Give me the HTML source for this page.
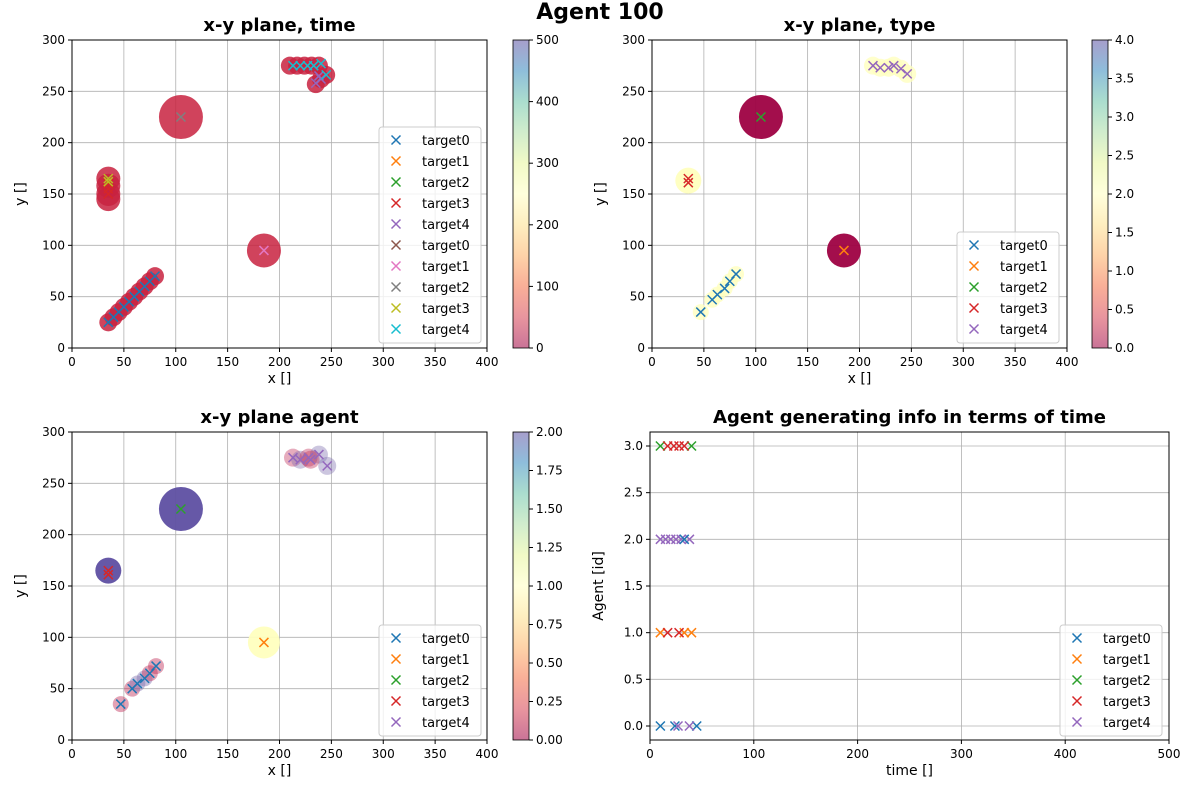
<!DOCTYPE html>
<html><head><meta charset="utf-8"><style>
body{margin:0;background:#fff;font-family:"Liberation Sans","DejaVu Sans",sans-serif}
svg text{font-family:"DejaVu Sans","Liberation Sans",sans-serif}
</style></head><body>
<svg id="fig" width="1200" height="800" viewBox="0 0 1200 800" xmlns="http://www.w3.org/2000/svg">
<defs>
<linearGradient id="spec" x1="0" y1="0" x2="0" y2="1">
<stop offset="0" stop-color="#5e4fa2"/><stop offset="0.1" stop-color="#3288bd"/><stop offset="0.2" stop-color="#66c2a5"/><stop offset="0.3" stop-color="#abdda4"/><stop offset="0.4" stop-color="#e6f598"/><stop offset="0.5" stop-color="#ffffbf"/><stop offset="0.6" stop-color="#fee08b"/><stop offset="0.7" stop-color="#fdae61"/><stop offset="0.8" stop-color="#f46d43"/><stop offset="0.9" stop-color="#d53e4f"/><stop offset="1" stop-color="#9e0142"/>
</linearGradient>
</defs>
<text x="600" y="19" text-anchor="middle" font-size="22" font-weight="bold">Agent 100</text>
</svg>
<script>
const NS='http://www.w3.org/2000/svg';
const fig=document.getElementById('fig');
const C=['#1f77b4','#ff7f0e','#2ca02c','#d62728','#9467bd','#8c564b','#e377c2','#7f7f7f','#bcbd22','#17becf'];
// ---- data ----
const tlT0x=[35,40,45,50,55,60,65,70,75,80];
const tlT0y=[25,30,35,40,45,50,55,60,65,70];
const tlT3x=[35,35,35];
const tlT3y=[150,155,160];
const tlT8x=[35,35];
const tlT8y=[165,162];
const tlT7x=[105];const tlT7y=[225];
const tlT6x=[185];const tlT6y=[95];
const tlT9x=[213,220,227,233,240,245];
const tlT9y=[275,275,275,275,277,266];
const tlT4x=[235,240,238];
const tlT4y=[258,262,265];
const tlCircleX=[35,40,45,50,55,60,65,70,75,80,35,35,35,35,105,185,210,217,224,231,238,245,240,235];
const tlCircleY=[25,30,35,40,45,50,55,60,65,70,145,150,158,165,225,95,275,275,275,275,275,266,262,257];
const tlCircleR=[9,9,9,9,9,9,9,9,9,9,12,12,12,12,22,17,9,9,9,9,9,9,9,9];

const trT0x=[47,58,63,70,75,81];const trT0y=[35,47,52,58,65,72];
const trT3x=[35,35];const trT3y=[165,161];
const trT2x=[105];const trT2y=[225];
const trT1x=[185];const trT1y=[95];
const trT4x=[213,220,228,233,240,246];const trT4y=[275,273,273,275,272,267];

const blT0x=[47,58,63,70,75,81];const blT0y=[35,50,55,60,65,72];
const blT0c=['#c0305a','#c0305a','#8070b0','#8070b0','#c0305a','#c0305a'];
const blT4x=[213,220,228,238,246,230];const blT4y=[275,273,275,278,267,273];
const blT4c=['#c0305a','#8070b0','#c0305a','#8070b0','#8070b0','#c0305a'];

const brRows=[3,3,3,3,3,3,2,2,2,2,2,2,2,1,1,1,1,1,0,0,0,0,0];
const brTime=[10,40,17,23,28,33,10,15,20,25,30,38,33,10,33,40,17,28,10,24,45,27,38];
const brSer=[2,2,3,3,3,3,4,4,4,4,4,4,0,1,1,1,3,3,0,0,0,4,4];

function el(tag,attrs,parent){const e=document.createElementNS(NS,tag);for(const k in attrs)e.setAttribute(k,attrs[k]);(parent||fig).appendChild(e);return e;}
function txt(s,attrs,parent){const e=el('text',attrs,parent);e.textContent=s;return e;}
function mk(g,px,py,color){
 const p=el('path',{d:`M${px-4.5},${py-4.5}L${px+4.5},${py+4.5}M${px-4.5},${py+4.5}L${px+4.5},${py-4.5}`,stroke:color,'stroke-width':1.5,fill:'none'},g);
 
 
}
function axes(name,x0,x1,y0,y1,xmin,xmax,ymin,ymax,xt,yt,yfmt,title,xl,yl){
 const g=el('g',{});
 
 
 const sx=v=>x0+(v-xmin)/(xmax-xmin)*(x1-x0);
 const sy=v=>y1-(v-ymin)/(ymax-ymin)*(y1-y0);
 xt.forEach(v=>{el('line',{x1:sx(v),x2:sx(v),y1:y0,y2:y1,stroke:'#b0b0b0','stroke-width':0.8},g);el('line',{x1:sx(v),x2:sx(v),y1:y1,y2:y1+4,stroke:'#000'},g);
  const t=txt(String(v),{x:sx(v),y:y1+18,'text-anchor':'middle','font-size':12},g);});
 yt.forEach(v=>{el('line',{x1:x0,x2:x1,y1:sy(v),y2:sy(v),stroke:'#b0b0b0','stroke-width':0.8},g);el('line',{x1:x0-4,x2:x0,y1:sy(v),y2:sy(v),stroke:'#000'},g);
  const t=txt(yfmt(v),{x:x0-7,y:sy(v)+4,'text-anchor':'end','font-size':12},g);});
 const tt=txt(title,{x:(x0+x1)/2,y:y0-9,'text-anchor':'middle','font-size':18,'font-weight':'bold'},g);
 
 const xx=txt(xl,{x:(x0+x1)/2,y:y1+35,'text-anchor':'middle','font-size':14},g);
 
 const yy=txt(yl,{x:0,y:0,'text-anchor':'middle','font-size':14,transform:`translate(${x0-47},${(y0+y1)/2}) rotate(-90)`},g);
 
 const plot=el('g',{},g);
 
 const fr=el('rect',{x:x0,y:y0,width:x1-x0,height:y1-y0,fill:'none',stroke:'#000','stroke-width':1},g);
 
 return {g,plot,sx,sy,x0,x1,y0,y1};
}
function legend(a,x,y,labels,colors){
 const g=el('g',{},a.g);
 
 el('rect',{x:x,y:y,width:102,height:labels.length*21+6,fill:'#fff','fill-opacity':0.8,stroke:'#ccc',rx:3},g);
 labels.forEach((l,i)=>{const cy=y+13+i*21;mk(g,x+17,cy,colors[i]);
  const t=txt(l,{x:x+43,y:cy+5,'font-size':13},g);});
}
function cbar(name,x,y0,y1,ticks,max,fmt){
 const g=el('g',{});
 
 el('rect',{x:x,y:y0,width:16,height:y1-y0,fill:'url(#spec)','fill-opacity':0.55,stroke:'#000','stroke-width':0.8},g);
 ticks.forEach(v=>{const yy=y1-v/max*(y1-y0);el('line',{x1:x+16,x2:x+20,y1:yy,y2:yy,stroke:'#000'},g);
  const t=txt(fmt(v),{x:x+23,y:yy+4,'font-size':12},g);});
}
const xt=[0,50,100,150,200,250,300,350,400],yt=[0,50,100,150,200,250,300];
const T=['target0','target1','target2','target3','target4'];
// TL
let a=axes('xy-time-axes',72,487,40,348,0,400,0,300,xt,yt,String,'x-y plane, time','x []','y []');
tlCircleX.forEach((v,i)=>{const c=el('circle',{cx:a.sx(v),cy:a.sy(tlCircleY[i]),r:tlCircleR[i],fill:'#c8223f','fill-opacity':0.85},a.plot);});
[[tlT0x,tlT0y,0],[tlT3x,tlT3y,3],[tlT4x,tlT4y,4],[tlT7x,tlT7y,7],[tlT6x,tlT6y,6],[tlT8x,tlT8y,8],[tlT9x,tlT9y,9]].forEach(([xs,ys,k])=>xs.forEach((v,i)=>mk(a.plot,a.sx(v),a.sy(ys[i]),C[k])));
legend(a,379,127,T.concat(T),C);
cbar('time-colorbar',513,40,348,[0,100,200,300,400,500],500,String);
// TR
a=axes('xy-type-axes',652,1067,40,348,0,400,0,300,xt,yt,String,'x-y plane, type','x []','y []');
trT0x.forEach((v,i)=>{const c=el('circle',{cx:a.sx(v),cy:a.sy(trT0y[i]),r:8,fill:'#ffffbf','fill-opacity':0.8},a.plot);});
trT4x.forEach((v,i)=>{const c=el('circle',{cx:a.sx(v),cy:a.sy(trT4y[i]),r:9,fill:'#ffffbf','fill-opacity':0.8},a.plot);});
[[35,163,13,'#ffffbf'],[105,225,22,'#9e0142'],[185,95,17,'#9e0142']].forEach(([x,y,r,f])=>{const c=el('circle',{cx:a.sx(x),cy:a.sy(y),r:r,fill:f,'fill-opacity':0.95},a.plot);});
[[trT0x,trT0y,0],[trT1x,trT1y,1],[trT2x,trT2y,2],[trT3x,trT3y,3],[trT4x,trT4y,4]].forEach(([xs,ys,k])=>xs.forEach((v,i)=>mk(a.plot,a.sx(v),a.sy(ys[i]),C[k])));
legend(a,957,232,T,C);
cbar('type-colorbar',1092,40,348,[0,0.5,1,1.5,2,2.5,3,3.5,4],4,v=>v.toFixed(1));
// BL
a=axes('xy-agent-axes',72,487,432,740,0,400,0,300,xt,yt,String,'x-y plane agent','x []','y []');
blT0x.forEach((v,i)=>{const c=el('circle',{cx:a.sx(v),cy:a.sy(blT0y[i]),r:8,fill:blT0c[i],'fill-opacity':0.45},a.plot);});
blT4x.forEach((v,i)=>{const c=el('circle',{cx:a.sx(v),cy:a.sy(blT4y[i]),r:9,fill:blT4c[i],'fill-opacity':0.4},a.plot);});
[[35,165,13,'#5e4fa2'],[105,225,22,'#5e4fa2'],[185,95,16,'#ffffbf']].forEach(([x,y,r,f])=>{const c=el('circle',{cx:a.sx(x),cy:a.sy(y),r:r,fill:f,'fill-opacity':0.95},a.plot);});
[[blT0x,blT0y,0],[trT1x,trT1y,1],[trT2x,trT2y,2],[trT3x,trT3y,3],[blT4x,blT4y,4]].forEach(([xs,ys,k])=>xs.forEach((v,i)=>mk(a.plot,a.sx(v),a.sy(ys[i]),C[k])));
legend(a,379,625,T,C);
cbar('agent-colorbar',513,432,740,[0,0.25,0.5,0.75,1,1.25,1.5,1.75,2],2,v=>v.toFixed(2));
// BR
a=axes('agent-time-axes',650,1169,432,740,0,500,-0.15,3.15,[0,100,200,300,400,500],[0,0.5,1,1.5,2,2.5,3],v=>v.toFixed(1),'Agent generating info in terms of time','time []','Agent [id]');
brTime.forEach((v,i)=>mk(a.plot,a.sx(v),a.sy(brRows[i]),C[brSer[i]]));
legend(a,1060,625,T,C);
</script>
</body></html>
